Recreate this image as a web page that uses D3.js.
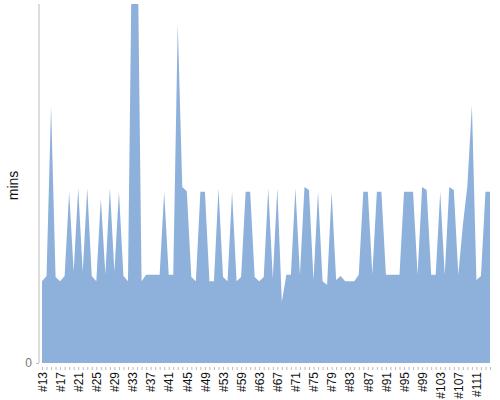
<!DOCTYPE html>
<html>
<head>
<meta charset="utf-8">
<script src="https://cdn.jsdelivr.net/npm/d3@7"></script>
<style>
  html, body { margin: 0; padding: 0; background: #fff; }
  svg { display: block; font-family: "Liberation Sans", Arial, sans-serif; }
</style>
</head>
<body>
<svg id="chart" width="500" height="400"></svg>
<script>
// ---- data ----
const categoryNumbers = [
  13,14,15,16,17,18,19,20,21,22,23,24,25,26,27,28,29,30,31,32,
  33,34,35,36,37,38,39,40,41,42,43,44,45,46,47,48,49,50,51,52,
  53,54,56,57,
  59,60,61,62,63,64,65,66,67,68,69,70,71,72,73,74,75,76,77,78,
  79,80,81,82,83,84,85,86,87,88,89,90,91,92,93,94,95,96,97,98,
  99,100,101,102,103,104,105,106,107,108,109,110,111,112,113,114
];
const categories = categoryNumbers.map(n => "#" + n);
const minutes = [
  13.9,14.8,43.7,14.6,13.9,14.8,29.1,15.5,29.7,15.5,
  29.7,14.8,13.9,28.0,15.1,29.7,15.5,29.1,14.8,13.9,
  80,80,13.9,15.0,15.0,15.0,15.0,29.1,15.0,15.0,
  57.6,29.9,29.2,14.6,13.9,29.1,29.1,13.9,13.9,29.7,
  14.6,13.9,29.1,13.9,14.6,29.1,29.1,14.6,13.9,14.6,
  29.7,14.4,29.7,10.4,15.0,15.0,29.7,15.0,29.9,29.4,
  14.1,29.1,13.9,13.3,29.1,14.1,14.8,13.9,13.9,13.9,
  15.0,29.1,29.1,15.1,29.1,29.1,15.0,15.0,15.0,15.0,
  29.1,29.1,29.1,15.0,29.9,29.4,15.0,15.0,29.1,15.0,
  29.9,29.4,15.0,23.4,30.1,43.8,14.1,14.8,29.1,29.1
];
const yTickValues = [0];
const yTitle = "mins";

// ---- layout ----
const svg = d3.select("#chart");
const plotLeft = 42, plotRight = 490, plotTop = 4, plotBottom = 363, axisX = 39;

const x = d3.scalePoint().domain(categories).range([plotLeft, plotRight]);
const y = d3.scaleLinear().domain([0, 61]).range([plotBottom, plotTop]);

svg.append("defs").append("clipPath").attr("id", "clip")
  .append("rect").attr("x", 0).attr("y", plotTop).attr("width", 500).attr("height", plotBottom - plotTop + 1);

const data = categories.map((c, i) => ({ c, v: minutes[i] }));

const area = d3.area()
  .x(d => x(d.c))
  .y0(y(0))
  .y1(d => y(d.v));

svg.append("path")
  .datum(data)
  .attr("clip-path", "url(#clip)")
  .attr("fill", "#8eb1db")
  .attr("d", area);

// y axis
const yAxis = d3.axisLeft(y).tickValues(yTickValues).tickSize(3).tickPadding(4);
const gy = svg.append("g").attr("transform", `translate(${axisX},0)`).call(yAxis);
gy.select(".domain").attr("stroke", "#bbb").attr("d", `M0,${plotTop}V${plotBottom}`);
gy.selectAll(".tick line").attr("stroke", "#bbb");
gy.selectAll(".tick text").attr("fill", "#777").attr("font-size", 12);

// x axis
const xAxis = d3.axisBottom(x)
  .tickSize(3)
  .tickFormat((d, i) => i % 4 === 0 ? d : "");
const gx = svg.append("g").attr("transform", `translate(0,${plotBottom + 4})`).call(xAxis);
gx.select(".domain").remove();
gx.selectAll(".tick line").attr("stroke", "#bbb");
gx.selectAll(".tick text")
  .attr("fill", "#111")
  .attr("font-size", 12)
  .attr("text-anchor", "end")
  .attr("transform", "rotate(-90)")
  .attr("x", -5)
  .attr("y", 0)
  .attr("dy", "0.35em");

// y title
svg.append("text")
  .attr("transform", `translate(18,${(plotTop + plotBottom) / 2 + 2}) rotate(-90)`)
  .attr("text-anchor", "middle")
  .attr("font-size", 14)
  .attr("fill", "#111")
  .text(yTitle);
</script>
</body>
</html>
